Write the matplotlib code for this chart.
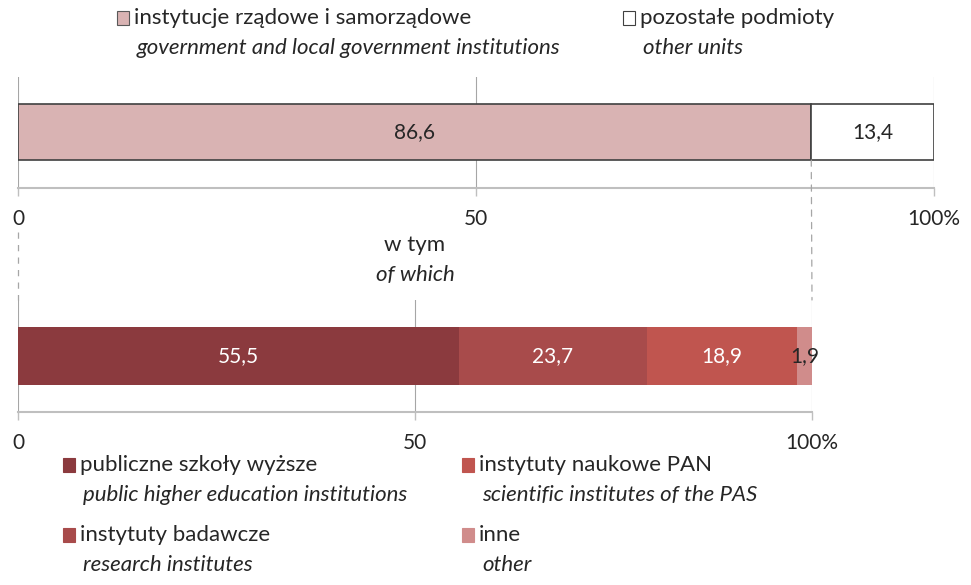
import matplotlib
matplotlib.use("Agg")
import matplotlib.pyplot as plt
from matplotlib.patches import Rectangle, ConnectionPatch
from matplotlib.transforms import blended_transform_factory

plt.rcParams['font.family'] = ['Lato', 'DejaVu Sans']

# data
top_labels_pl = ["instytucje rządowe i samorządowe", "pozostałe podmioty"]
top_labels_en = ["government and local government institutions", "other units"]
top_values = [86.6, 13.4]
top_colors = ["#D9B3B3", "#FFFFFF"]

bot_labels_pl = ["publiczne szkoły wyższe", "instytuty badawcze",
                 "instytuty naukowe PAN", "inne"]
bot_labels_en = ["public higher education institutions", "research institutes",
                 "scientific institutes of the PAS", "other"]
bot_values = [55.5, 23.7, 18.9, 1.9]
bot_colors = ["#8B3A3E", "#A84B4B", "#C0554F", "#D08C8B"]
bot_text_colors = ["white", "white", "white", "#262626"]

tick_vals = [0, 50, 100]
tick_labels = ["0", "50", "100%"]

W, H = 971, 585
fig = plt.figure(figsize=(W / 100, H / 100), dpi=100)

FS = 16     # legend / caption text
NFS = 15    # numbers and tick labels
GRID = "#A6A6A6"
TXT = "#262626"


def px_axes(x0, y0, x1, y1):
    return fig.add_axes([x0 / W, 1 - y1 / H, (x1 - x0) / W, (y1 - y0) / H])


def fmt(v):
    return f"{v:.1f}".replace('.', ',')


def style_axis(ax):
    ax.set_xlim(0, 100)
    ax.set_ylim(0, 1)
    ax.set_yticks([])
    for s in ["top", "left", "right"]:
        ax.spines[s].set_visible(False)
    ax.spines["bottom"].set_color("#BFBFBF")
    ax.spines["bottom"].set_linewidth(1.5)
    ax.set_xticks(tick_vals)
    ax.set_xticklabels(tick_labels, fontsize=NFS, color=TXT)
    ax.tick_params(axis="x", length=6, width=1, color="#BFBFBF", pad=9)
    ax.grid(axis="x", color=GRID, linewidth=0.8)
    ax.set_axisbelow(True)
    ax.patch.set_alpha(0)


# top chart
ax1 = px_axes(18, 77, 934, 188)
style_axis(ax1)
left = 0
for v, c in zip(top_values, top_colors):
    ax1.barh(0.505, v, left=left, height=0.505, color=c, edgecolor="#404040",
             linewidth=1.2, zorder=3)
    ax1.text(left + v / 2, 0.505, fmt(v), ha="center", va="center",
             fontsize=NFS, color=TXT, zorder=4)
    left += v

# bottom chart
ax2 = px_axes(18, 300, 812, 412)
style_axis(ax2)
left = 0
for v, c, tc in zip(bot_values, bot_colors, bot_text_colors):
    ax2.barh(0.5, v, left=left, height=0.51, color=c, linewidth=0, zorder=3)
    ax2.text(left + v / 2, 0.5, fmt(v), ha="center", va="center",
             fontsize=NFS, color=tc, zorder=4)
    left += v

ax2.text(50, 1.49, "w tym", ha="center", va="center", fontsize=FS, color=TXT)
ax2.text(50, 1.22, "of which", ha="center", va="center", fontsize=FS,
         color=TXT, style="italic")

# dashed connectors
con = ConnectionPatch(xyA=(top_values[0], 0.2525), coordsA=ax1.transData,
                      xyB=(100, 1.0), coordsB=ax2.transData,
                      linestyle=(0, (5, 5)), color=GRID, linewidth=0.9)
fig.add_artist(con)
tr = blended_transform_factory(ax2.transData, fig.transFigure)
ax2.plot([0, 0], [1 - 232 / H, 1 - 300 / H], transform=tr, clip_on=False,
         linestyle=(0, (5, 5)), color=GRID, linewidth=0.9)


# legends
def legend_item(x, y, color, pl, en, edge):
    fig.add_artist(Rectangle((x / W, 1 - (y + 7) / H), 12 / W, 14 / H,
                             transform=fig.transFigure, facecolor=color,
                             edgecolor=edge, linewidth=0.8))
    fig.text((x + 17) / W, 1 - y / H, pl, fontsize=FS, color=TXT, va="center")
    fig.text((x + 20) / W, 1 - (y + 30) / H, en, fontsize=FS, color=TXT,
             va="center", style="italic")


legend_item(117, 18, top_colors[0], top_labels_pl[0], top_labels_en[0], "#595959")
legend_item(623, 18, top_colors[1], top_labels_pl[1], top_labels_en[1], "#404040")

pos = [(63, 465), (63, 535), (462, 465), (462, 535)]
for (x, y), c, pl, en in zip(pos, bot_colors, bot_labels_pl, bot_labels_en):
    legend_item(x, y, c, pl, en, c)

fig.savefig("out.png", dpi=100)
